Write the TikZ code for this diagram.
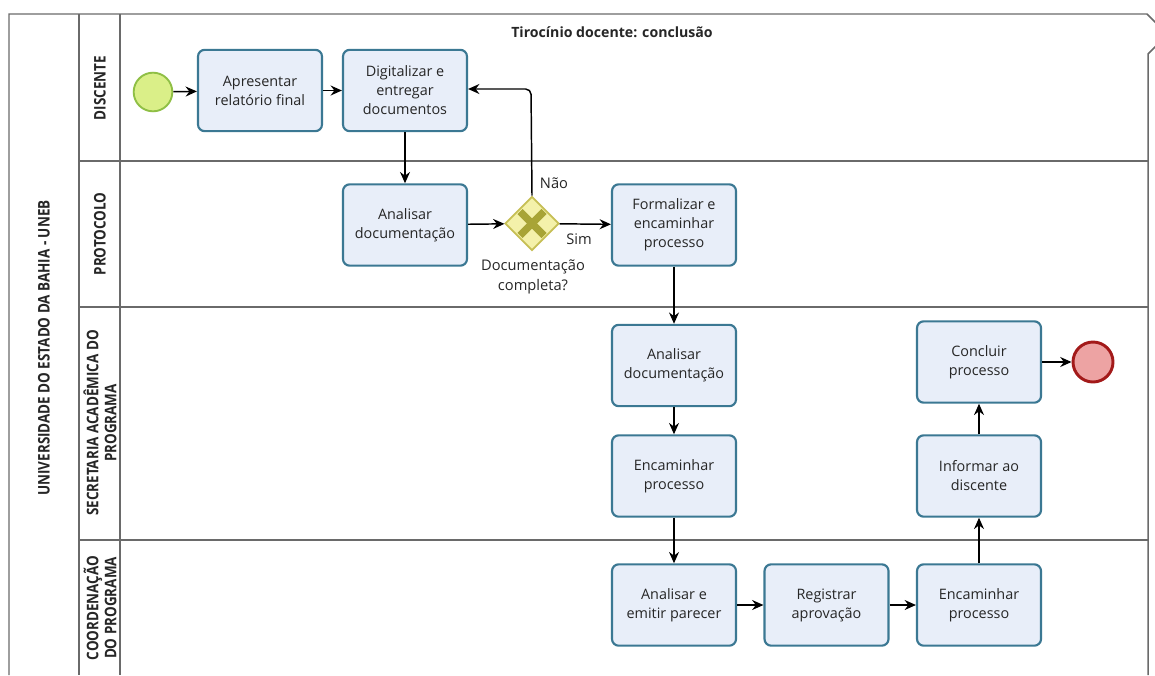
\documentclass[tikz,border=0pt]{standalone}
\usepackage{fontspec}
\setmainfont{Open Sans}
\usetikzlibrary{arrows.meta,shapes.geometric}
\definecolor{taskfill}{HTML}{E8EEF9}
\definecolor{taskdraw}{HTML}{3B7893}
\definecolor{poolline}{HTML}{6A6A6A}
\definecolor{startfill}{HTML}{DAEF88}
\definecolor{startdraw}{HTML}{8FBF45}
\definecolor{endfill}{HTML}{EDA3A3}
\definecolor{enddraw}{HTML}{A31A1A}
\definecolor{gwfill}{HTML}{F4F1AA}
\definecolor{gwdraw}{HTML}{C6BF55}
\definecolor{gwmark}{HTML}{A8A436}
\tikzset{
  task/.style={draw=taskdraw, fill=taskfill, line width=1.6pt, rounded corners=5pt,
    minimum width=93pt, minimum height=61pt, align=center, inner sep=2pt,
    font=\fontsize{10.8pt}{14.3pt}\selectfont, text=black!85},
  flow/.style={line width=1.1pt, -{Stealth[length=8.5pt,width=7.5pt,inset=2.8pt]}},
  lane/.style={poolline, line width=1.1pt},
  lanelabel/.style={rotate=90, align=center, font=\bfseries\fontsize{12pt}{13.5pt}\selectfont, text=black!85},
  small/.style={font=\fontsize{11pt}{15pt}\selectfont, text=black!85, align=center}
}
\begin{document}
\begin{tikzpicture}[x=0.75pt,y=-0.75pt]
\useasboundingbox (0,0) rectangle (1155,675);
\fill[white] (0,0) rectangle (1155,675);
% pool frame
\draw[lane] (9,675) -- (9,14) -- (1147,14) -- (1156,23);
\draw[lane] (1156,46) -- (1148,54) -- (1148,675);
\draw[lane] (79,14) -- (79,675);
\draw[lane] (120,14) -- (120,675);
\draw[lane] (79,161) -- (1148,161);
\draw[lane] (79,307) -- (1148,307);
\draw[lane] (79,540) -- (1148,540);
% labels
\node[lanelabel] (pool) at (44,348) {\scalebox{0.84}[1]{UNIVERSIDADE DO ESTADO DA BAHIA - UNEB}};
\node[lanelabel] (l1) at (100,88) {\scalebox{0.84}[1]{DISCENTE}};
\node[lanelabel] (l2) at (100,234) {\scalebox{0.84}[1]{PROTOCOLO}};
\node[lanelabel] (l3) at (100,423) {\scalebox{0.84}[1]{SECRETARIA ACADÊMICA DO}\\\scalebox{0.84}[1]{PROGRAMA}};
\node[lanelabel] (l4) at (100,608) {\scalebox{0.84}[1]{COORDENAÇÃO}\\\scalebox{0.84}[1]{DO PROGRAMA}};
\node[font=\bfseries\fontsize{10.6pt}{12pt}\selectfont, text=black!85] (title) at (612,32) {Tirocínio docente: conclusão};
% events
\node[circle, draw=startdraw, fill=startfill, line width=1.4pt, minimum size=29pt, inner sep=0pt] (start) at (153,92) {};
\node[circle, draw=enddraw, fill=endfill, line width=2.2pt, minimum size=30pt, inner sep=0pt] (end) at (1093,362) {};
% tasks
\node[task] (apr) at (260,90.5) {Apresentar\\relatório final};
\node[task] (dig) at (405,90.5) {Digitalizar e\\entregar\\documentos};
\node[task] (ana1) at (405,225) {Analisar\\documentação};
\node[task] (form) at (674,225) {Formalizar e\\encaminhar\\processo};
\node[task] (ana2) at (674,365.5) {Analisar\\documentação};
\node[task] (enc1) at (674,476) {Encaminhar\\processo};
\node[task] (aep) at (674,605) {Analisar e\\emitir parecer};
\node[task] (reg) at (826.5,605) {Registrar\\aprovação};
\node[task] (enc2) at (979,605) {Encaminhar\\processo};
\node[task] (inf) at (979,476) {Informar ao\\discente};
\node[task] (conc) at (979,362) {Concluir\\processo};
% gateway
\node[diamond, draw=gwdraw, fill=gwfill, line width=1.3pt, minimum width=40.5pt, minimum height=40.5pt, inner sep=0pt] (gw) at (532,223.5) {};
\draw[gwmark, line width=5.5pt] ([shift={(-12,-12)}]gw.center) -- ([shift={(12,12)}]gw.center);
\draw[gwmark, line width=5.5pt] ([shift={(-12,12)}]gw.center) -- ([shift={(12,-12)}]gw.center);
\node[small] (gwl) at (533,277) {Documentação\\completa?};
\node[small] (nao) at (554,183) {Não};
\node[small] (sim) at (579,239) {Sim};
% flows
\draw[flow] (start) -- (apr);
\draw[flow] (apr) -- (dig);
\draw[flow] (dig) -- (ana1);
\draw[flow] (ana1) -- (gw);
\draw[flow] (gw) -- (form);
\coordinate (c1) at (531,89);
\draw[flow, rounded corners=4pt] (gw.north) -- (c1) -- (dig.east |- c1);
\draw[flow] (form) -- (ana2);
\draw[flow] (ana2) -- (enc1);
\draw[flow] (enc1) -- (aep);
\draw[flow] (aep) -- (reg);
\draw[flow] (reg) -- (enc2);
\draw[flow] (enc2) -- (inf);
\draw[flow] (inf) -- (conc);
\draw[flow] (conc) -- (end);
\end{tikzpicture}
\end{document}
